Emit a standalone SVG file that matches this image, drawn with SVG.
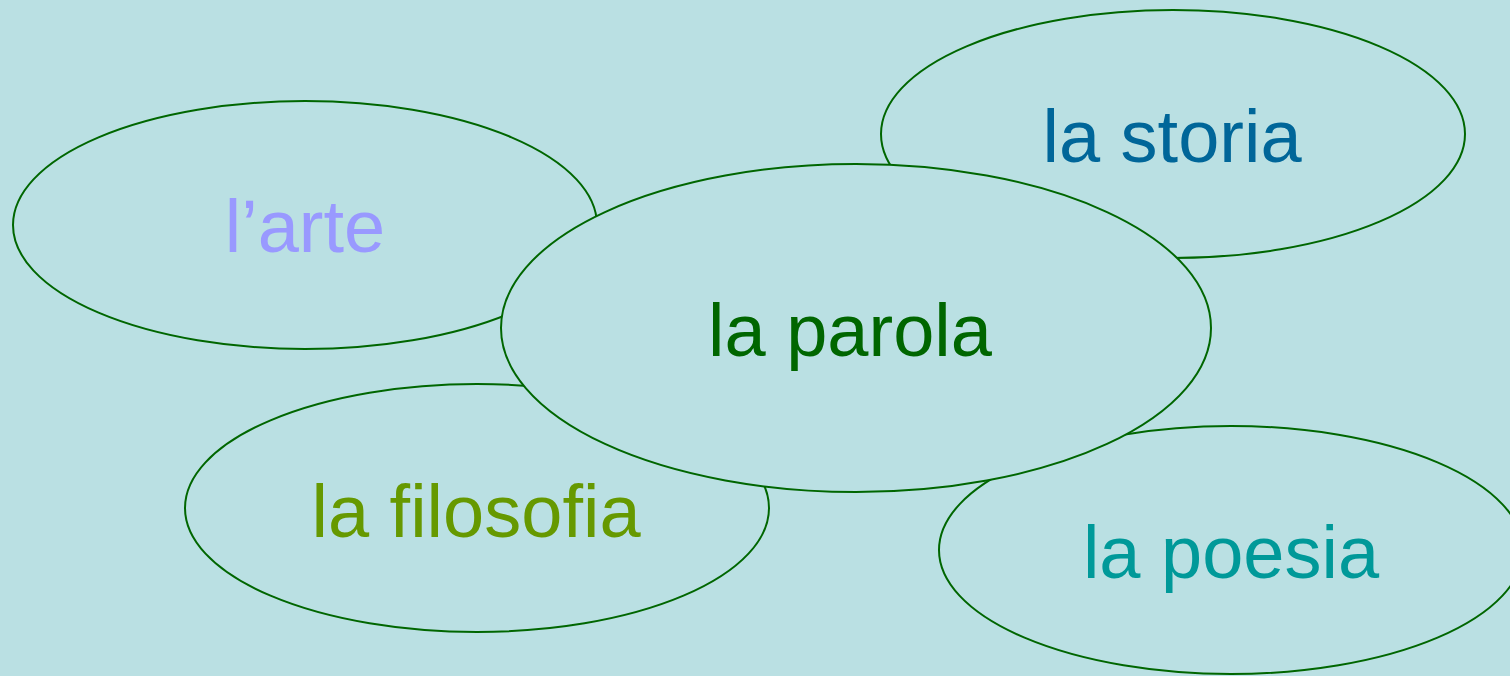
<svg xmlns="http://www.w3.org/2000/svg" width="1510" height="676" viewBox="0 0 1510 676">
<style>
.n{fill:#BAE0E3;stroke:#006600;stroke-width:2}
.t{font-family:"Liberation Sans",Arial,sans-serif;font-size:74px;text-anchor:middle}
</style>
<rect width="1510" height="676" fill="#BAE0E3"/>
<g id="connectors"/>
<g id="arte"><ellipse class="n" cx="305" cy="225" rx="292" ry="124"/><text class="t" x="305" y="252" fill="#9999FF">l’arte</text></g>
<g id="storia"><ellipse class="n" cx="1173" cy="134" rx="292" ry="124"/><text class="t" x="1172" y="162" fill="#006699">la storia</text></g>
<g id="filosofia"><ellipse class="n" cx="477" cy="508" rx="292" ry="124"/><text class="t" x="476" y="537" fill="#669900">la filosofia</text></g>
<g id="poesia"><ellipse class="n" cx="1231" cy="550" rx="292" ry="124"/><text class="t" x="1231" y="578" fill="#009999">la poesia</text></g>
<g id="parola"><ellipse class="n" cx="856" cy="328" rx="355" ry="164"/><text class="t" x="850" y="356" fill="#006600">la parola</text></g>
</svg>
